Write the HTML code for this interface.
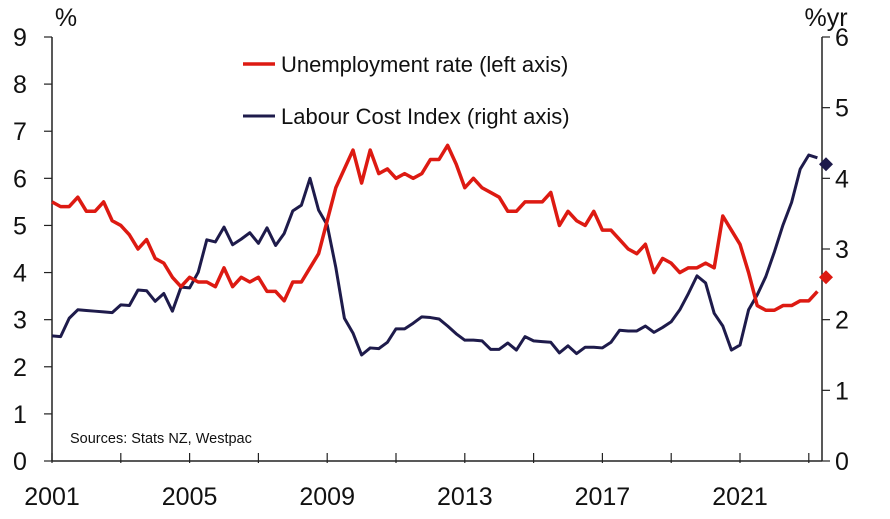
<!DOCTYPE html>
<html><head><meta charset="utf-8"><style>
body{margin:0;background:#fff;}
svg{display:block;font-family:"Liberation Sans",Arial,sans-serif;}
</style></head><body>
<svg id="chart" width="890" height="519" viewBox="0 0 890 519"></svg>
<script>
const unemployment=[5.5,5.4,5.4,5.6,5.3,5.3,5.5,5.1,5.0,4.8,4.5,4.7,4.3,4.2,3.9,3.7,3.9,3.8,3.8,3.7,4.1,3.7,3.9,3.8,3.9,3.6,3.6,3.4,3.8,3.8,4.1,4.4,5.1,5.8,6.2,6.6,5.9,6.6,6.1,6.2,6.0,6.1,6.0,6.1,6.4,6.4,6.7,6.3,5.8,6.0,5.8,5.7,5.6,5.3,5.3,5.5,5.5,5.5,5.7,5.0,5.3,5.1,5.0,5.3,4.9,4.9,4.7,4.5,4.4,4.6,4.0,4.3,4.2,4.0,4.1,4.1,4.2,4.1,5.2,4.9,4.6,4.0,3.3,3.2,3.2,3.3,3.3,3.4,3.4,3.6];
const lci=[1.77,1.76,2.02,2.14,2.13,2.12,2.11,2.10,2.21,2.20,2.42,2.41,2.26,2.37,2.12,2.46,2.45,2.67,3.13,3.10,3.31,3.06,3.14,3.23,3.08,3.30,3.05,3.22,3.54,3.62,4.00,3.55,3.34,2.74,2.02,1.81,1.50,1.60,1.59,1.68,1.87,1.87,1.95,2.04,2.03,2.01,1.91,1.80,1.71,1.71,1.70,1.58,1.58,1.67,1.57,1.76,1.70,1.69,1.68,1.53,1.63,1.52,1.61,1.61,1.60,1.68,1.85,1.84,1.84,1.91,1.82,1.89,1.97,2.14,2.37,2.62,2.52,2.09,1.91,1.57,1.64,2.14,2.35,2.61,2.96,3.34,3.66,4.13,4.33,4.29];
const unempForecast=3.9;
const lciForecast=4.2;
const leftTicks=[0,1,2,3,4,5,6,7,8,9];
const rightTicks=[0,1,2,3,4,5,6];
const yearLabels=[2001,2005,2009,2013,2017,2021];
const yearTicks=[2001,2003,2005,2007,2009,2011,2013,2015,2017,2019,2021,2023];

const X0=52,XR=822,Y0=461,YT=37;
const idxX=i=>X0+i*8.6;
const yearX=y=>X0+(y-2001)*34.4;
const yL=v=>Y0-(v/9)*(Y0-YT);
const yR=v=>Y0-(v/6)*(Y0-YT);
const svg=document.getElementById('chart');
const NS='http://www.w3.org/2000/svg';
function mk(tag,attrs,parent){const e=document.createElementNS(NS,tag);for(const k in attrs)e.setAttribute(k,attrs[k]);(parent||svg).appendChild(e);return e;}

let e=mk('line',{x1:X0,y1:YT,x2:X0,y2:Y0,stroke:'#222','stroke-width':1.5});


e=mk('line',{x1:XR,y1:YT,x2:XR,y2:Y0,stroke:'#222','stroke-width':1.5});


e=mk('line',{x1:X0,y1:Y0,x2:XR,y2:Y0,stroke:'#222','stroke-width':1.5});



leftTicks.forEach(v=>{
  mk('line',{x1:X0-8,y1:yL(v),x2:X0,y2:yL(v),stroke:'#222','stroke-width':1.2});
  const t=mk('text',{x:20,y:yL(v)+9,'font-size':25,'text-anchor':'middle',fill:'#111'});
  t.textContent=v;
  
  
});
rightTicks.forEach(v=>{
  mk('line',{x1:XR,y1:yR(v),x2:XR+8,y2:yR(v),stroke:'#222','stroke-width':1.2});
  const t=mk('text',{x:842,y:yR(v)+9,'font-size':25,'text-anchor':'middle',fill:'#111'});
  t.textContent=v;
  
  
});
yearTicks.forEach(y=>{
  mk('line',{x1:yearX(y),y1:Y0-8,x2:yearX(y),y2:Y0+2,stroke:'#222','stroke-width':1.2});
});
yearLabels.forEach(y=>{
  const t=mk('text',{x:yearX(y),y:505,'font-size':25,'text-anchor':'middle',fill:'#111'});
  t.textContent=y;
  
  
});

let t=mk('text',{x:66,y:26,'font-size':25,'text-anchor':'middle',fill:'#111'});t.textContent='%';


t=mk('text',{x:826,y:26,'font-size':25,'text-anchor':'middle',fill:'#111'});t.textContent='%yr';


t=mk('text',{x:70,y:443,'font-size':14.5,fill:'#111'});t.textContent='Sources: Stats NZ, Westpac';



let p=mk('polyline',{points:lci.map((v,i)=>idxX(i)+','+yR(v)).join(' '),fill:'none',stroke:'#1e1b4b','stroke-width':3,'stroke-linejoin':'round'});


p=mk('polyline',{points:unemployment.map((v,i)=>idxX(i)+','+yL(v)).join(' '),fill:'none',stroke:'#dd1a12','stroke-width':3.5,'stroke-linejoin':'round'});



function diamond(cx,cy,c,name){
  const d=mk('polygon',{points:`${cx},${cy-7} ${cx+7},${cy} ${cx},${cy+7} ${cx-7},${cy}`,fill:c});
  
  
}
diamond(idxX(unemployment.length),yL(unempForecast),'#dd1a12','unemployment-forecast-marker');
diamond(idxX(lci.length),yR(lciForecast),'#1e1b4b','lci-forecast-marker');

let l=mk('line',{x1:243,y1:64,x2:275,y2:64,stroke:'#dd1a12','stroke-width':3.5});


t=mk('text',{x:281,y:72,'font-size':22,fill:'#111'});t.textContent='Unemployment rate (left axis)';


l=mk('line',{x1:243,y1:116,x2:275,y2:116,stroke:'#1e1b4b','stroke-width':3});


t=mk('text',{x:281,y:124,'font-size':22,fill:'#111'});t.textContent='Labour Cost Index (right axis)';


</script>
</body></html>
